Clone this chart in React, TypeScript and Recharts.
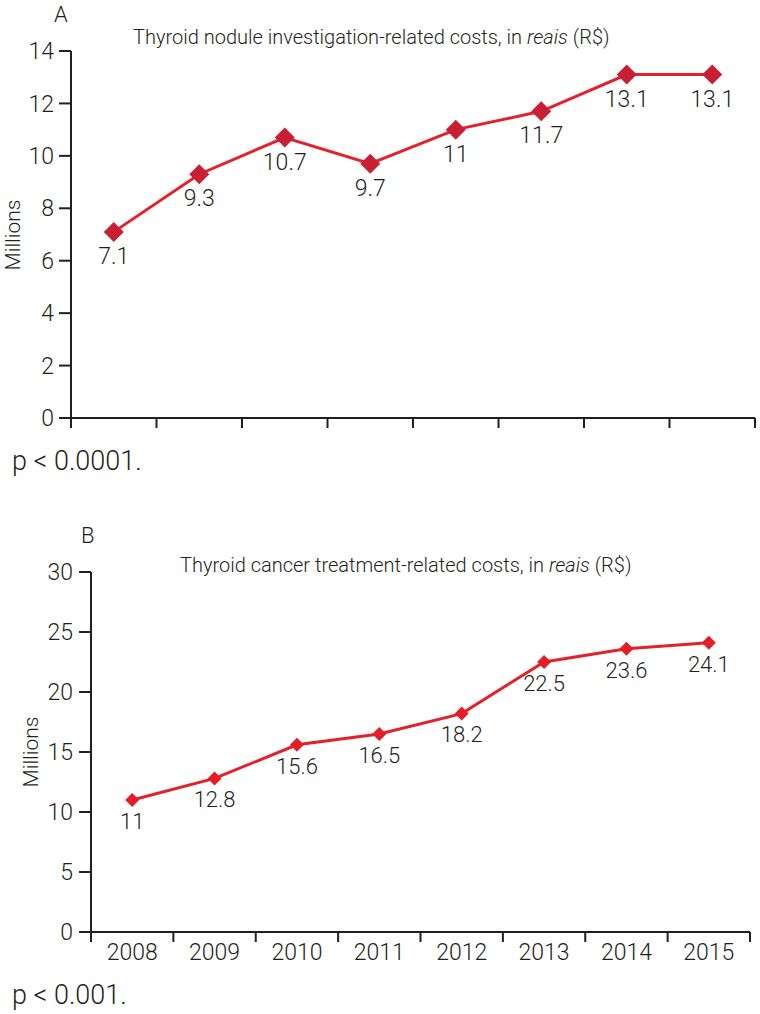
import React from 'react';
import { LineChart, Line, XAxis, YAxis, LabelList } from 'recharts';

const years = ['2008', '2009', '2010', '2011', '2012', '2013', '2014', '2015'];
const investigationCosts = [7.1, 9.3, 10.7, 9.7, 11, 11.7, 13.1, 13.1];
const treatmentCosts = [11, 12.8, 15.6, 16.5, 18.2, 22.5, 23.6, 24.1];
const ticksA = [0, 2, 4, 6, 8, 10, 12, 14];
const ticksB = [0, 5, 10, 15, 20, 25, 30];

const FONT = 'Roboto, "DejaVu Sans Condensed", sans-serif';
const WEIGHT = 300;
const INK = '#231f20';
const LINE_RED = '#e3212b';

const dataA = years.map((year, i) => ({ year, value: investigationCosts[i] }));
const dataB = years.map((year, i) => ({ year, value: treatmentCosts[i] }));

// x axis tick: a mark at the left edge of each band (and the right edge of the last one)
const makeBandTick = (band: number, showLabel: boolean) => (props: any) => {
  const { x, y, payload, index } = props;
  const left = x - band / 2;
  const right = x + band / 2;
  return (
    <g>
      <line x1={left} y1={y} x2={left} y2={y + 10} stroke={INK} strokeWidth={2} />
      {index === years.length - 1 && (
        <line x1={right} y1={y} x2={right} y2={y + 10} stroke={INK} strokeWidth={2} />
      )}
      {showLabel && (
        <text x={x} y={y + 22} textAnchor="middle" dominantBaseline="middle" fill={INK} fontSize={23} fontWeight={WEIGHT} fontFamily={FONT}>
          {payload.value}
        </text>
      )}
    </g>
  );
};

const makeDiamond = (half: number, fill: string) => (props: any) => {
  const { cx, cy, index } = props;
  return (
    <path
      key={`d-${index}`}
      d={`M${cx},${cy - half} L${cx + half},${cy} L${cx},${cy + half} L${cx - half},${cy} Z`}
      fill={fill}
    />
  );
};

const makeValueLabel = (offset: number, size: number) => (props: any) => {
  const { x, y, value } = props;
  return (
    <text x={x} y={y + offset} textAnchor="middle" dominantBaseline="middle" fill={INK} fontSize={size} fontWeight={WEIGHT} fontFamily={FONT}>
      {value}
    </text>
  );
};

const yTick = { fill: INK, fontSize: 23, fontWeight: WEIGHT, fontFamily: FONT };

const abs = (left: number, top: number, extra: React.CSSProperties = {}): React.CSSProperties => ({
  position: 'absolute',
  left,
  top,
  fontFamily: FONT,
  fontWeight: WEIGHT,
  color: INK,
  whiteSpace: 'nowrap',
  lineHeight: 1,
  ...extra,
});

export default function App() {
  const bandA = (755 - 71) / years.length;
  const bandB = (750 - 91) / years.length;

  return (
    <div style={{ position: 'absolute', left: 0, top: 0, width: 760, height: 1014, background: '#fff' }}>
      {/* Panel A */}
      <div style={{ position: 'absolute', left: 0, top: 0 }}>
        <LineChart width={760} height={440} data={dataA} margin={{ top: 51, right: 5, left: 0, bottom: 0 }}>
          <XAxis
            dataKey="year"
            scale="band"
            height={22}
            axisLine={{ stroke: INK, strokeWidth: 2 }}
            tickLine={false}
            tickSize={0}
            tickMargin={0}
            tick={makeBandTick(bandA, false)}
            interval={0}
          />
          <YAxis
            width={71}
            domain={[0, 14]}
            ticks={ticksA}
            interval={0}
            axisLine={{ stroke: INK, strokeWidth: 2 }}
            tickLine={{ stroke: INK, strokeWidth: 2 }}
            tickSize={12}
            tickMargin={5}
            tick={yTick}
          />
          <Line
            dataKey="value"
            stroke={LINE_RED}
            strokeWidth={3}
            dot={makeDiamond(10, '#c91f35')}
            activeDot={false}
            isAnimationActive={false}
          >
            <LabelList dataKey="value" content={makeValueLabel(26, 23)} />
          </Line>
        </LineChart>
      </div>
      <div style={abs(54, 4, { fontSize: 22 })}>A</div>
      <div style={abs(133, 27, { fontSize: 20 })}>
        Thyroid nodule investigation-related costs, in <i>reais</i> (R$)
      </div>
      <div style={abs(13, 235, { fontSize: 21, transform: 'translate(-50%, -50%) rotate(-90deg)' })}>Millions</div>
      <div style={abs(12, 448, { fontSize: 27 })}>p &lt; 0.0001.</div>

      {/* Panel B */}
      <div style={{ position: 'absolute', left: 0, top: 520 }}>
        <LineChart width={760} height={470} data={dataB} margin={{ top: 52, right: 10, left: 0, bottom: 0 }}>
          <XAxis
            dataKey="year"
            scale="band"
            height={58}
            axisLine={{ stroke: INK, strokeWidth: 2 }}
            tickLine={false}
            tickSize={0}
            tickMargin={0}
            tick={makeBandTick(bandB, true)}
            interval={0}
          />
          <YAxis
            width={91}
            domain={[0, 30]}
            ticks={ticksB}
            interval={0}
            axisLine={{ stroke: INK, strokeWidth: 2 }}
            tickLine={{ stroke: INK, strokeWidth: 2 }}
            tickSize={12}
            tickMargin={6}
            tick={yTick}
          />
          <Line
            dataKey="value"
            stroke={LINE_RED}
            strokeWidth={3}
            dot={makeDiamond(7, '#e31e26')}
            activeDot={false}
            isAnimationActive={false}
          >
            <LabelList dataKey="value" content={makeValueLabel(23, 22)} />
          </Line>
        </LineChart>
      </div>
      <div style={abs(81, 525, { fontSize: 22 })}>B</div>
      <div style={abs(180, 555, { fontSize: 20 })}>
        Thyroid cancer treatment-related costs, in <i>reais</i> (R$)
      </div>
      <div style={abs(31, 752, { fontSize: 21, transform: 'translate(-50%, -50%) rotate(-90deg)' })}>Millions</div>
      <div style={abs(12, 982, { fontSize: 27 })}>p &lt; 0.001.</div>
    </div>
  );
}
